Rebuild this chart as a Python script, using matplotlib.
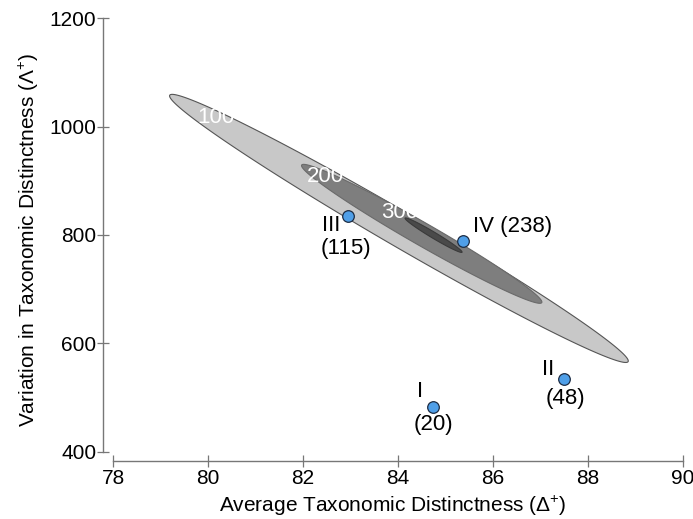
import numpy as np
import matplotlib
matplotlib.use("Agg")
import matplotlib.pyplot as plt

plt.rcParams['font.family'] = ['Liberation Sans', 'DejaVu Sans']
plt.rcParams['mathtext.fontset'] = 'custom'
plt.rcParams['mathtext.rm'] = 'Liberation Sans'
plt.rcParams['mathtext.it'] = 'Liberation Sans:italic'

# ---- data ----
site_names = ["I", "II", "III", "IV"]
site_counts = ["(20)", "(48)", "(115)", "(238)"]
site_delta = [84.74, 87.50, 82.95, 85.38]
site_lambda = [483, 533, 835, 789]

contour_levels = ["100", "200", "300"]
contour_left_tip = [(79.19, 1058), (81.97, 929), (84.15, 831)]
contour_right_tip = [(88.85, 566), (87.03, 675), (85.35, 768)]
contour_width_ratio = [0.066, 0.082, 0.09]
contour_label_pos = [(80.16, 1016), (82.48, 907), (84.04, 842)]

x_ticks = [78, 80, 82, 84, 86, 88, 90]
y_ticks = [400, 600, 800, 1000, 1200]

# ---- figure ----
fig = plt.figure(figsize=(6.93, 5.19), dpi=100)
ax = fig.add_axes([0.1491, 0.1118, 0.8360, 0.8529])
ax.set_xlim(77.79, 90)
ax.set_ylim(382.5, 1200)

fills = ["#c8c8c8", "#7e7e7e", "#4a4a4a"]
edges = ["#555555", "#6a6a6a", "#3a3a3a"]
t = np.linspace(0, 2 * np.pi, 400)
fig.canvas.draw()
for lt, rt, r, fc, ec in zip(contour_left_tip, contour_right_tip, contour_width_ratio, fills, edges):
    p1 = ax.transData.transform(lt)
    p2 = ax.transData.transform(rt)
    c = (p1 + p2) / 2
    u = (p2 - p1) / 2
    v = np.array([-u[1], u[0]]) * r
    pts = c + np.outer(np.cos(t), u) + np.outer(np.sin(t), v)
    d = ax.transData.inverted().transform(pts)
    ax.fill(d[:, 0], d[:, 1], facecolor=fc, edgecolor=ec, linewidth=0.8, zorder=2)

for lab, (lx, ly) in zip(contour_levels, contour_label_pos):
    ax.text(lx, ly, lab, color="white", fontsize=16, ha="center", va="center", zorder=3)

ax.scatter(site_delta, site_lambda, s=70, facecolor="#4f9fe8", edgecolor="#1c2c44",
           linewidth=0.9, zorder=4)

name_off = {"I": (-13, 15), "II": (-16, 10), "III": (-17, -10), "IV": (10, 14)}
count_off = {"I": (0, -18), "II": (1, -19), "III": (-2, -33)}
for n, cnt, x, y in zip(site_names, site_counts, site_delta, site_lambda):
    if n == "IV":
        ax.annotate(n + " " + cnt, (x, y), xytext=name_off[n], textcoords="offset pixels",
                    ha="left", va="center", fontsize=16, zorder=5)
    else:
        ax.annotate(n, (x, y), xytext=name_off[n], textcoords="offset pixels",
                    ha="center", va="center", fontsize=16, zorder=5)
        ax.annotate(cnt, (x, y), xytext=count_off[n], textcoords="offset pixels",
                    ha="center", va="center", fontsize=16, zorder=5)

# axes styling
for s in ["top", "right"]:
    ax.spines[s].set_visible(False)
ax.spines["left"].set_bounds(400, 1200)
ax.spines["bottom"].set_bounds(78, 90)
for s in ["left", "bottom"]:
    ax.spines[s].set_color("#777777")
    ax.spines[s].set_linewidth(1.0)
ax.set_xticks(x_ticks)
ax.set_yticks(y_ticks)
ax.tick_params(axis="both", direction="inout", length=8, width=0.9, color="#777777",
               labelsize=15, labelcolor="black")
ax.tick_params(axis="x", pad=2)
ax.tick_params(axis="y", pad=1)

ax.set_xlabel(r"Average Taxonomic Distinctness ($\Delta^{+}$)", fontsize=15, labelpad=4)
ax.set_ylabel(r"Variation in Taxonomic Distinctness ($\mathit{\Lambda}^{+}$)", fontsize=15, labelpad=6)

fig.savefig("out.png", dpi=100)
